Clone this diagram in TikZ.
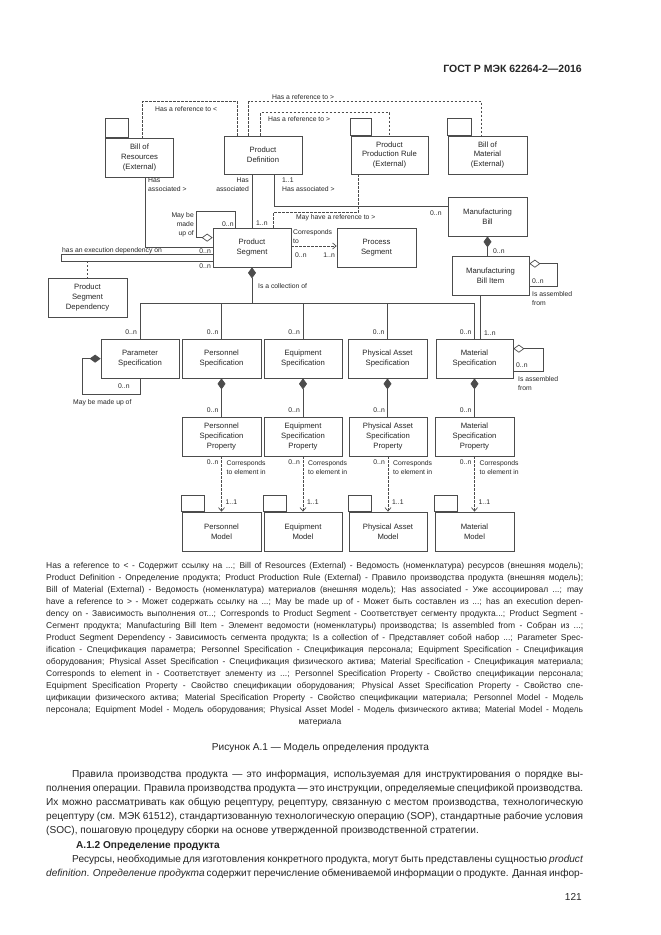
\documentclass[tikz,border=0pt]{standalone}
\usepackage{fontspec}
\setmainfont{Liberation Sans}
\usetikzlibrary{positioning,calc,arrows.meta}
\definecolor{linec}{gray}{0.3}
\definecolor{txtc}{gray}{0.15}

\begin{document}
\begin{tikzpicture}[x=1pt, y=-1pt,
        every node/.style={inner sep=0pt, text=txtc},
        box/.style={draw=linec, line width=0.7pt, minimum width=78pt, minimum height=39pt,
            align=center, font=\fontsize{7.7}{9.6}\selectfont},
        lbl/.style={font=\fontsize{6.8}{8.8}\selectfont},
        conn/.style={draw=linec, line width=0.7pt},
        ref/.style={conn, dash pattern=on 2.4pt off 1.6pt},
        comp/.style={arrows={Diamond[length=11pt, width=8pt]-}},
        aggr/.style={arrows={Diamond[open, length=11pt, width=8pt, fill=white]-}},
        vee/.style={arrows={-Straight Barb[length=3.5pt, width=6pt]}},
        legend/.style={font=\fontsize{8.5}{12}\selectfont, anchor=base west},
        body/.style={font=\fontsize{10.1}{14}\selectfont, anchor=base west}
        ]
    \fill[white] (0,0) rectangle (661,935);
    \useasboundingbox (0,0) rectangle (661,935);

    \node[font=\bfseries\fontsize{10.5}{12}\selectfont, anchor=base east] (hdr) at (582,72) {ГОСТ Р МЭК 62264-2—2016};

    % classes
    \node[box, minimum width=68pt] (bor) at (139.5,157.5) {Bill of\\Resources\\(External)};
    \node[box, minimum height=38pt] (pd) at (263,155) {Product\\Definition};
    \node[box, minimum width=77pt, minimum height=38pt] (ppr) at (389.5,155) {Product\\Production Rule\\(External)};
    \node[box, minimum width=79pt, minimum height=38pt] (bom) at (487.5,155) {Bill of\\Material\\(External)};
    \node[box, minimum width=79pt] (mb) at (487.5,216.5) {Manufacturing\\Bill};
    \node[box, minimum width=77pt] (mbi) at (490.5,275.5) {Manufacturing\\Bill Item};
    \node[box] (ps) at (252,247.5) {Product\\Segment};
    \node[box, minimum width=79pt] (procs) at (376.5,247.5) {Process\\Segment};
    \node[box, minimum width=79pt] (psd) at (87.5,297.5) {Product\\Segment\\Dependency};

    \node[box] (parsp) at (140,358.5) {Parameter\\Specification};
    \node[box, minimum width=79pt] (persp) at (221.5,358.5) {Personnel\\Specification};
    \node[box] (eqsp) at (303,358.5) {Equipment\\Specification};
    \node[box, minimum width=79pt] (pasp) at (387.5,358.5) {Physical Asset\\Specification};
    \node[box, minimum width=77pt] (matsp) at (474.5,358.5) {Material\\Specification};

    \node[box, minimum width=79pt] (perpr) at (221.5,436.5) {Personnel\\Specification\\Property};
    \node[box] (eqpr) at (303,436.5) {Equipment\\Specification\\Property};
    \node[box] (papr) at (388,436.5) {Physical Asset\\Specification\\Property};
    \node[box, minimum width=79pt] (matpr) at (474.5,436.5) {Material\\Specification\\Property};

    \node[box, minimum width=79pt] (permod) at (221.5,531.5) {Personnel\\Model};
    \node[box] (eqmod) at (303,531.5) {Equipment\\Model};
    \node[box] (pamod) at (388,531.5) {Physical Asset\\Model};
    \node[box, minimum width=79pt] (matmod) at (474.5,531.5) {Material\\Model};

    % package tabs
    \draw[conn] (bor.north west) rectangle ++(23,-19);
    \draw[conn] (ppr.north west) rectangle ++(21,-17);
    \draw[conn] (bom.north west) rectangle ++(24,-17);
    \foreach \m in {permod,eqmod,pamod,matmod}
        \draw[conn] (\m.north west) rectangle ++(23,-16);

    % references from the product definition
    \draw[ref] ($(pd.north west)+(14,0)$) -- ++(0,-34) -| ($(bor.north west)+(37,0)$);
    \draw[ref] ($(pd.north west)+(25,0)$) -- ++(0,-34) -| ($(bom.north west)+(34,0)$);
    \draw[ref] ($(pd.north west)+(37,0)$) -- ++(0,-23) -| ($(ppr.north west)+(39,0)$);
    \node[lbl, anchor=west] (l-refbor) at (155,109.5) {Has a reference to <};
    \node[lbl, anchor=west] (l-refbom) at (272,97.5) {Has a reference to >};
    \node[lbl, anchor=west] (l-refppr) at (268,119) {Has a reference to >};

    % associations
    \draw[conn] ($(bor.south west)+(40,0)$) |- (ps.west);
    \node[lbl, anchor=west, align=left] (l-asbor) at (148,184.5) {Has\\associated >};
    \draw[conn] ($(pd.south west)+(29,0)$) coordinate (pdps) -- (pdps |- ps.north);
    \node[lbl, anchor=east, align=right] (l-aspd) at (249,184.5) {Has\\associated};
    \node[lbl, anchor=west] (l-pdps) at (256,223) {1..n};
    \draw[conn] ($(pd.south west)+(51,0)$) |- ($(mb.west)+(0,-10.5)$);
    \node[lbl, anchor=west, align=left] (l-asmb) at (282,185) {1..1\\Has associated >};
    \node[lbl, anchor=west] (l-mbn) at (430,213) {0..n};
    \draw[ref] ($(ppr.south west)+(8,0)$) -- ++(0,38) -| ($(ps.north west)+(61,0)$);
    \node[lbl, anchor=west] (l-mayref) at (296,218) {May have a reference to >};
    \draw[ref, vee] ($(ps.east)+(0,-1.5)$) -- ($(procs.west)+(0,-1.5)$);
    \node[lbl, anchor=west, align=left] (l-corr) at (293,236.5) {Corresponds\\to};
    \node[lbl, anchor=west] (l-corra) at (295,255) {0..n};
    \node[lbl, anchor=east] (l-corrb) at (335,255) {1..n};

    % product segment structure
    \draw[conn, aggr] ($(ps.north west)+(0,10)$) -- ++(-16,0) |- ($(ps.north west)+(23,-16)$) -- ($(ps.north west)+(23,0)$);
    \node[lbl, anchor=east, align=right] (l-madeps) at (194,225) {May be\\made\\up of};
    \node[lbl, anchor=west] (l-madepsn) at (222,224) {0..n};
    \draw[conn] ($(ps.west)+(0,6.5)$) -- ++(-151,0) -- ++(0,7) -- ($(ps.west)+(0,13.5)$) coordinate (execb);
    \draw[ref] (psd.north |- execb) -- (psd.north);
    \node[lbl, anchor=west] (l-exec) at (62,251) {has an execution dependency on};
    \node[lbl, anchor=east] (l-execa) at (211,251) {0..n};
    \node[lbl, anchor=east] (l-execb) at (211,266) {0..n};

    \draw[conn, comp] (ps.south) -- ++(0,36) coordinate (bus);
    \draw[conn] (parsp.north |- bus) -- (matsp.north |- bus);
    \foreach \s in {parsp,persp,eqsp,pasp,matsp} {
        \draw[conn] (\s.north |- bus) -- (\s.north);
        \node[lbl, anchor=east] (m-\s) at ($(\s.north)+(-3,-6)$) {0..n};
    }
    \node[lbl, anchor=west] (l-coll) at (258,286) {Is a collection of};

    % manufacturing bill
    \draw[conn, comp] (mb.south) -- (mb.south |- mbi.north);
    \node[lbl, anchor=west] (l-mbin) at (493,251) {0..n};
    \draw[conn, aggr] ($(mbi.north east)+(0,8)$) -- ++(28,0) |- ($(mbi.north east)+(0,31)$);
    \node[lbl, anchor=west] (l-mbiloop) at (532,281) {0..n};
    \node[lbl, anchor=west, align=left] (l-mbiasm) at (532,298.5) {Is assembled\\from};
    \draw[conn] ($(mbi.south west)+(29,0)$) coordinate (mbim) -- (mbim |- matsp.north);
    \node[lbl, anchor=west] (l-mbim) at (484,333) {1..n};
    \draw[conn, aggr] ($(matsp.north east)+(0,10)$) -- ++(30,0) |- ($(matsp.north east)+(0,33)$);
    \node[lbl, anchor=west] (l-matloop) at (516,365) {0..n};
    \node[lbl, anchor=west, align=left] (l-matasm) at (518,383.5) {Is assembled\\from};
    \draw[conn, comp] ($(parsp.north west)+(0,20)$) -- ++(-18,0) |- ($(parsp.south)+(0,16)$) -- (parsp.south);
    \node[lbl, anchor=west] (l-parloop) at (118,386) {0..n};
    \node[lbl, anchor=west] (l-parmade) at (73,403) {May be made up of};

    % specifications, properties and models
    \foreach \s/\p/\m in {persp/perpr/permod, eqsp/eqpr/eqmod, pasp/papr/pamod, matsp/matpr/matmod} {
        \draw[conn, comp] (\s.south) -- (\s.south |- \p.north);
        \node[lbl, anchor=east] (n-\p) at ($(\p.north)+(-3,-6)$) {0..n};
        \draw[ref, vee] (\p.south) -- (\p.south |- \m.north);
        \node[lbl, anchor=east] (k-\p) at ($(\p.south)+(-3,6)$) {0..n};
        \node[lbl, anchor=west, align=left] (c-\p) at ($(\p.south)+(5,11)$) {Corresponds\\to element in};
        \node[lbl, anchor=west] (o-\m) at ($(\m.north)+(4,-9)$) {1..1};
    }

    % legend
    \node[legend] (lg1) at (46,568.5) {\makebox[537pt][s]{Has a reference to < - Содержит ссылку на ...; Bill of Resources (External) - Ведомость (номенклатура) ресурсов (внешняя модель);}};
    \node[legend] (lg2) at (46,580.5) {\makebox[537pt][s]{Product Definition - Определение продукта; Product Production Rule (External) - Правило производства продукта (внешняя модель);}};
    \node[legend] (lg3) at (46,592.5) {\makebox[537pt][s]{Bill of Material (External) - Ведомость (номенклатура) материалов (внешняя модель); Has associated - Уже ассоциировал ...; may}};
    \node[legend] (lg4) at (46,604.5) {\makebox[537pt][s]{have a reference to > - Может содержать ссылку на ...; May be made up of - Может быть составлен из ...; has an execution depen-}};
    \node[legend] (lg5) at (46,616.5) {\makebox[537pt][s]{dency on - Зависимость выполнения от...; Corresponds to Product Segment - Соответствует сегменту продукта...; Product Segment -}};
    \node[legend] (lg6) at (46,628.5) {\makebox[537pt][s]{Сегмент продукта; Manufacturing Bill Item - Элемент ведомости (номенклатуры) производства; Is assembled from - Собран из ...;}};
    \node[legend] (lg7) at (46,640.5) {\makebox[537pt][s]{Product Segment Dependency - Зависимость сегмента продукта; Is a collection of - Представляет собой набор ...; Parameter Spec-}};
    \node[legend] (lg8) at (46,652.5) {\makebox[537pt][s]{ification - Спецификация параметра; Personnel Specification - Спецификация персонала; Equipment Specification - Спецификация}};
    \node[legend] (lg9) at (46,664.5) {\makebox[537pt][s]{оборудования; Physical Asset Specification - Спецификация физического актива; Material Specification - Спецификация материала;}};
    \node[legend] (lg10) at (46,676.5) {\makebox[537pt][s]{Corresponds to element in - Соответствует элементу из ...; Personnel Specification Property - Свойство спецификации персонала;}};
    \node[legend] (lg11) at (46,688.5) {\makebox[537pt][s]{Equipment Specification Property - Свойство спецификации оборудования; Physical Asset Specification Property - Свойство спе-}};
    \node[legend] (lg12) at (46,700.5) {\makebox[537pt][s]{цификации физического актива; Material Specification Property - Свойство спецификации материала; Personnel Model - Модель}};
    \node[legend] (lg13) at (46,712.5) {\makebox[537pt][s]{персонала; Equipment Model - Модель оборудования; Physical Asset Model - Модель физического актива; Material Model - Модель}};
    \node[legend, anchor=base] (lg14) at (320,724.5) {материала};

    \node[body, anchor=base] (cap) at (320.5,750.5) {Рисунок А.1 — Модель определения продукта};

    % text of the page
    \node[body] (t1) at (72,777) {\makebox[511pt][s]{Правила производства продукта — это информация, используемая для инструктирования о порядке вы-}};
    \node[body] (t2) at (46,791.2) {\makebox[537pt][s]{полнения операции. Правила производства продукта — это инструкции, определяемые спецификой производства.}};
    \node[body] (t3) at (46,805.4) {\makebox[537pt][s]{Их можно рассматривать как общую рецептуру, рецептуру, связанную с местом производства, технологическую}};
    \node[body] (t4) at (46,819.6) {\makebox[537pt][s]{рецептуру (см. МЭК 61512), стандартизованную технологическую операцию (SOP), стандартные рабочие условия}};
    \node[body] (t5) at (46,833.8) {(SOC), пошаговую процедуру сборки на основе утвержденной производственной стратегии.};
    \node[body] (t6) at (76,848) {\textbf{А.1.2 Определение продукта}};
    \node[body] (t7) at (72,862.2) {\makebox[511pt][s]{Ресурсы, необходимые для изготовления конкретного продукта, могут быть представлены сущностью \textit{product}}};
    \node[body] (t8) at (46,876.4) {\makebox[537pt][s]{\textit{definition}. \textit{Определение продукта} содержит перечисление обмениваемой информации о продукте. Данная инфор-}};
    \node[body, anchor=base east] (pg) at (582,900) {121};
\end{tikzpicture}
\end{document}
